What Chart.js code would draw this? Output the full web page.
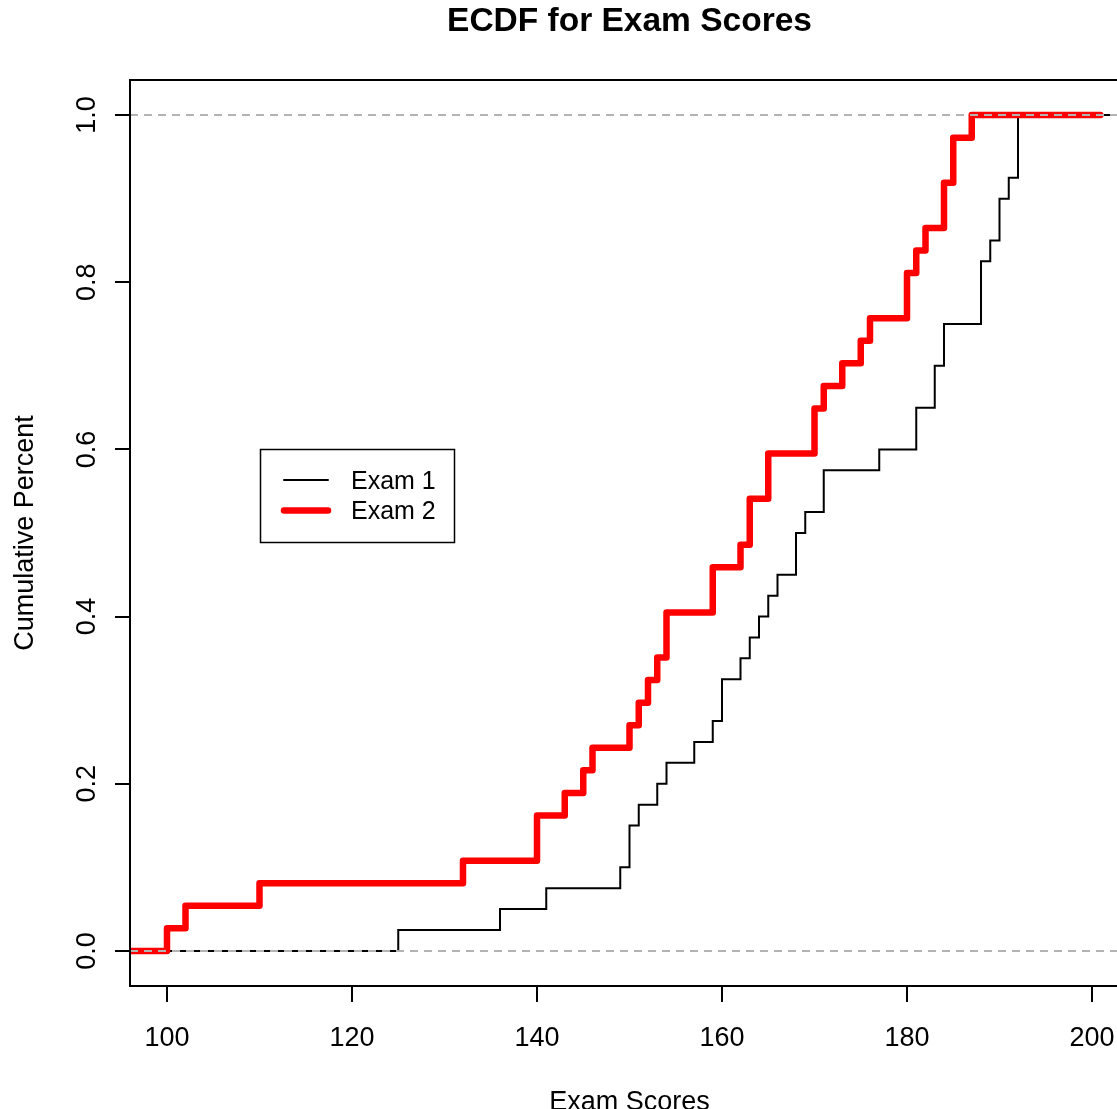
<!DOCTYPE html>
<html>
<head>
<meta charset="utf-8">
<title>ECDF for Exam Scores</title>
<script src="https://cdn.jsdelivr.net/npm/chart.js@4.4.1/dist/chart.umd.min.js"></script>
<style>
  html, body { margin: 0; padding: 0; background: #fff; overflow: hidden; }
  /* the plot frame runs a little past the right edge of the page, like the original */
  #wrap { width: 1129px; height: 1109px; position: relative; }
</style>
</head>
<body>
<div id="wrap"><canvas id="ecdf-chart"></canvas></div>
<script>
// Step positions (exam score) and cumulative proportion after each step
const exam1Scores = [125, 136, 141, 149, 150, 151, 153, 154, 157, 159, 160, 162, 163, 164,
  165, 166, 168, 169, 171, 177, 181, 183, 184, 188, 189, 190, 191, 192];
const exam1Cum = [0.025, 0.05, 0.075, 0.1, 0.15, 0.175, 0.2, 0.225, 0.25, 0.275, 0.325, 0.35, 0.375, 0.4,
  0.425, 0.45, 0.5, 0.525, 0.575, 0.6, 0.65, 0.7, 0.75, 0.825, 0.85, 0.9, 0.925, 1.0];

const exam2Scores = [100, 102, 110, 132, 140, 143, 145, 146, 150, 151, 152, 153, 154, 159,
  162, 163, 165, 170, 171, 173, 175, 176, 180, 181, 182, 184, 185, 187];
const exam2Cum = [0.027, 0.054, 0.081, 0.108, 0.162, 0.189, 0.216, 0.243, 0.270, 0.297, 0.324, 0.351, 0.405, 0.459,
  0.486, 0.541, 0.595, 0.649, 0.676, 0.703, 0.730, 0.757, 0.811, 0.838, 0.865, 0.919, 0.973, 1.0];

// where the outer horizontal pieces of each step line end
const exam1Ends = [96, 204];
const exam2Ends = [86, 200.9];

const seriesLabels = ['Exam 1', 'Exam 2'];
const xLimits = [96, 204];
const yLimits = [-0.042, 1.042];
const xTicks = [100, 120, 140, 160, 180, 200];
const yTicks = [0, 0.2, 0.4, 0.6, 0.8, 1.0];
const refLevels = [0, 1];

const stepPoints = (scores, cum, ends) => {
  const pts = [{ x: ends[0], y: 0 }];
  scores.forEach((s, i) => pts.push({ x: s, y: cum[i] }));
  pts.push({ x: ends[1], y: 1 });
  return pts;
};

const FONT = "'Liberation Sans', Arial, Helvetica, sans-serif";
Chart.defaults.font.family = FONT;
Chart.defaults.color = '#000';

// box around the plot region and the legend, placed like legend(110, 0.6, ...)
const boxAndLegend = {
  id: 'boxAndLegend',
  afterDraw(chart) {
    const { ctx, chartArea: a, scales } = chart;
    ctx.save();
    ctx.strokeStyle = '#000';
    ctx.lineWidth = 2;
    ctx.strokeRect(a.left, a.top, a.right - a.left, a.bottom - a.top);

    const lx = Math.round(scales.x.getPixelForValue(110));
    const ly = Math.round(scales.y.getPixelForValue(0.6));
    const w = 194, h = 93;
    ctx.fillStyle = '#fff';
    ctx.fillRect(lx, ly, w, h);
    ctx.lineWidth = 1.5;
    ctx.strokeRect(lx + 0.5, ly + 0.5, w, h);

    const items = [chart.data.datasets[0], chart.data.datasets[1]];
    ctx.font = '25px ' + FONT;
    ctx.textBaseline = 'middle';
    ctx.textAlign = 'left';
    items.forEach((ds, i) => {
      const yy = ly + 31 + i * 30.5;
      ctx.beginPath();
      ctx.strokeStyle = ds.borderColor;
      ctx.lineWidth = ds.borderWidth;
      ctx.lineCap = 'round';
      ctx.moveTo(lx + 24, yy);
      ctx.lineTo(lx + 68, yy);
      ctx.stroke();
      ctx.fillStyle = '#000';
      ctx.fillText(ds.label, lx + 91, yy + 2);
    });
    ctx.restore();
  }
};

const ctx = document.getElementById('ecdf-chart').getContext('2d');
new Chart(ctx, {
  type: 'line',
  data: {
    datasets: [{
      label: seriesLabels[0],
      data: stepPoints(exam1Scores, exam1Cum, exam1Ends),
      borderColor: '#000000',
      borderWidth: 2,
      stepped: 'before',
      pointRadius: 0,
      clip: 0,
      order: 2
    }, {
      label: seriesLabels[1],
      data: stepPoints(exam2Scores, exam2Cum, exam2Ends),
      borderColor: '#ff0000',
      borderWidth: 6.5,
      borderCapStyle: 'round',
      borderJoinStyle: 'round',
      stepped: 'before',
      pointRadius: 0,
      clip: 0,
      order: 1
    }].concat(refLevels.map(v => ({
      label: 'ref',
      data: [{ x: xLimits[0], y: v }, { x: xLimits[1], y: v }],
      borderColor: '#b3b3b3',
      borderWidth: 2,
      borderDash: [8, 6],
      pointRadius: 0,
      clip: 0,
      order: 0
    })))
  },
  options: {
    responsive: true,
    maintainAspectRatio: false,
    animation: false,
    layout: { padding: 0 },
    plugins: {
      legend: { display: false },
      tooltip: { enabled: false },
      title: {
        display: true,
        text: 'ECDF for Exam Scores',
        fullSize: false,
        font: { size: 33.5, weight: 'bold' },
        padding: { top: 2, bottom: 37.8 }
      }
    },
    scales: {
      x: {
        type: 'linear',
        min: xLimits[0],
        max: xLimits[1],
        afterBuildTicks: s => { s.ticks = xTicks.map(v => ({ value: v })); },
        afterFit: s => {
          s.height = 123;
          s.paddingLeft = 0;
          s.paddingRight = 0;
        },
        border: { display: false },
        grid: { drawOnChartArea: false, drawTicks: true, tickLength: 16, color: '#000', lineWidth: 2 },
        ticks: { autoSkip: false, maxRotation: 0, padding: 20, font: { size: 27 } },
        title: { display: true, text: 'Exam Scores', font: { size: 27 }, padding: { top: 0, bottom: -10 } }
      },
      y: {
        type: 'linear',
        min: yLimits[0],
        max: yLimits[1],
        afterBuildTicks: s => { s.ticks = yTicks.map(v => ({ value: v })); },
        afterFit: s => { s.width = 130; s.paddingTop = 0; s.paddingBottom = 0; },
        border: { display: false },
        grid: { drawOnChartArea: false, drawTicks: true, tickLength: 15, color: '#000', lineWidth: 2 },
        ticks: {
          minRotation: 90,
          maxRotation: 90,
          crossAlign: 'center',
          padding: 9,
          font: { size: 27 },
          callback: v => Number(v).toFixed(1)
        },
        title: { display: true, text: 'Cumulative Percent', font: { size: 27 }, padding: { top: 9, bottom: 0 } }
      }
    }
  },
  plugins: [boxAndLegend]
});
</script>
</body>
</html>
